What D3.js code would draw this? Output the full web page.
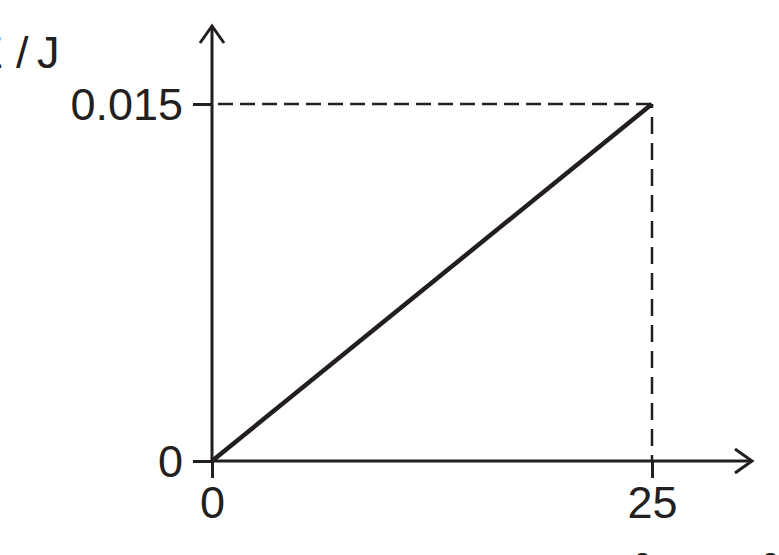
<!DOCTYPE html>
<html>
<head>
<meta charset="utf-8">
<script src="https://cdn.jsdelivr.net/npm/d3@7"></script>
<style>
  html, body { margin: 0; padding: 0; background: #fff; }
  svg { display: block; }
  text { font-family: "Liberation Sans", Arial, sans-serif; fill: #231f20; }
</style>
</head>
<body>
<div id="chart"></div>
<script>
// data
const xValues = [0, 25]
const yValues = [0, 0.015]
const xTicks = [0, 25]
const yTicks = [0, 0.015]
const yTickLabels = ["0", "0.015"]

const W = 779, H = 555
const INK = "#231f20"
const FONT = "45px"

const svg = d3.select("#chart").append("svg")
  .attr("width", W)
  .attr("height", H)

const x = d3.scaleLinear().domain([0, 25]).range([212, 652])
const y = d3.scaleLinear().domain([0, 0.015]).range([461, 104])

// axes lines with open arrowheads
const x0 = x(0), y0 = y(0)
svg.append("line")
  .attr("x1", x0).attr("y1", y0).attr("x2", 752).attr("y2", y0)
  .attr("stroke", INK).attr("stroke-width", 3)
svg.append("line")
  .attr("x1", x0).attr("y1", y0).attr("x2", x0).attr("y2", 26)
  .attr("stroke", INK).attr("stroke-width", 3)

svg.append("path")
  .attr("d", `M735,449 L752,${y0} L735,473`)
  .attr("fill", "none").attr("stroke", INK).attr("stroke-width", 3)
svg.append("path")
  .attr("d", `M200,43 L${x0},26 L224,43`)
  .attr("fill", "none").attr("stroke", INK).attr("stroke-width", 3)

// ticks via d3 axes
const yAxis = d3.axisLeft(y)
  .tickValues(yTicks)
  .tickSize(19)
  .tickPadding(10)
  .tickFormat((d, i) => yTickLabels[i])
const yG = svg.append("g").attr("transform", `translate(${x0},0)`).call(yAxis)

const xAxis = d3.axisBottom(x)
  .tickValues(xTicks)
  .tickSize(17)
  .tickPadding(8)
  .tickFormat(d3.format("d"))
const xG = svg.append("g").attr("transform", `translate(0,${y0})`).call(xAxis)

for (const g of [xG, yG]) {
  g.select(".domain").remove()
  g.selectAll(".tick line").attr("stroke", INK).attr("stroke-width", 3)
  g.selectAll(".tick text")
    .style("font-family", '"Liberation Sans", Arial, sans-serif')
    .style("font-size", FONT)
    .attr("fill", INK)
}
yG.selectAll(".tick text").attr("dy", "0.35em")
xG.selectAll(".tick text").attr("dy", "0.7em")

// dashed guide lines to the end point
const xe = x(xValues[1]), ye = y(yValues[1])
svg.append("line")
  .attr("x1", x0).attr("y1", ye).attr("x2", xe).attr("y2", ye)
  .attr("stroke", INK).attr("stroke-width", 2.5)
  .attr("stroke-dasharray", "15,7").attr("stroke-dashoffset", -6)
svg.append("line")
  .attr("x1", xe).attr("y1", ye).attr("x2", xe).attr("y2", y0)
  .attr("stroke", INK).attr("stroke-width", 2.5)
  .attr("stroke-dasharray", "17,9").attr("stroke-dashoffset", -13)

// data line
const line = d3.line().x(d => x(d[0])).y(d => y(d[1]))
svg.append("path")
  .datum(d3.zip(xValues, yValues))
  .attr("d", line)
  .attr("fill", "none")
  .attr("stroke", INK)
  .attr("stroke-width", 4.5)
  .attr("stroke-linecap", "butt")

// axis titles (both partly outside the frame, as in the reference)
const yt = svg.append("text")
  .attr("y", 68)
  .style("font-size", FONT)
yt.append("tspan").attr("x", -27).text("E")
yt.append("tspan").attr("x", 16).text("/")
yt.append("tspan").attr("x", 37).text("J")

const xt = svg.append("text")
  .attr("x", 612).attr("y", 588)
  .style("font-size", FONT)
xt.append("tspan").text("x")
xt.append("tspan").attr("dy", -16).style("font-size", "28px").text("2")
xt.append("tspan").attr("dy", 16).text(" / mm")
xt.append("tspan").attr("dy", -16).style("font-size", "28px").text("2")
</script>
</body>
</html>
